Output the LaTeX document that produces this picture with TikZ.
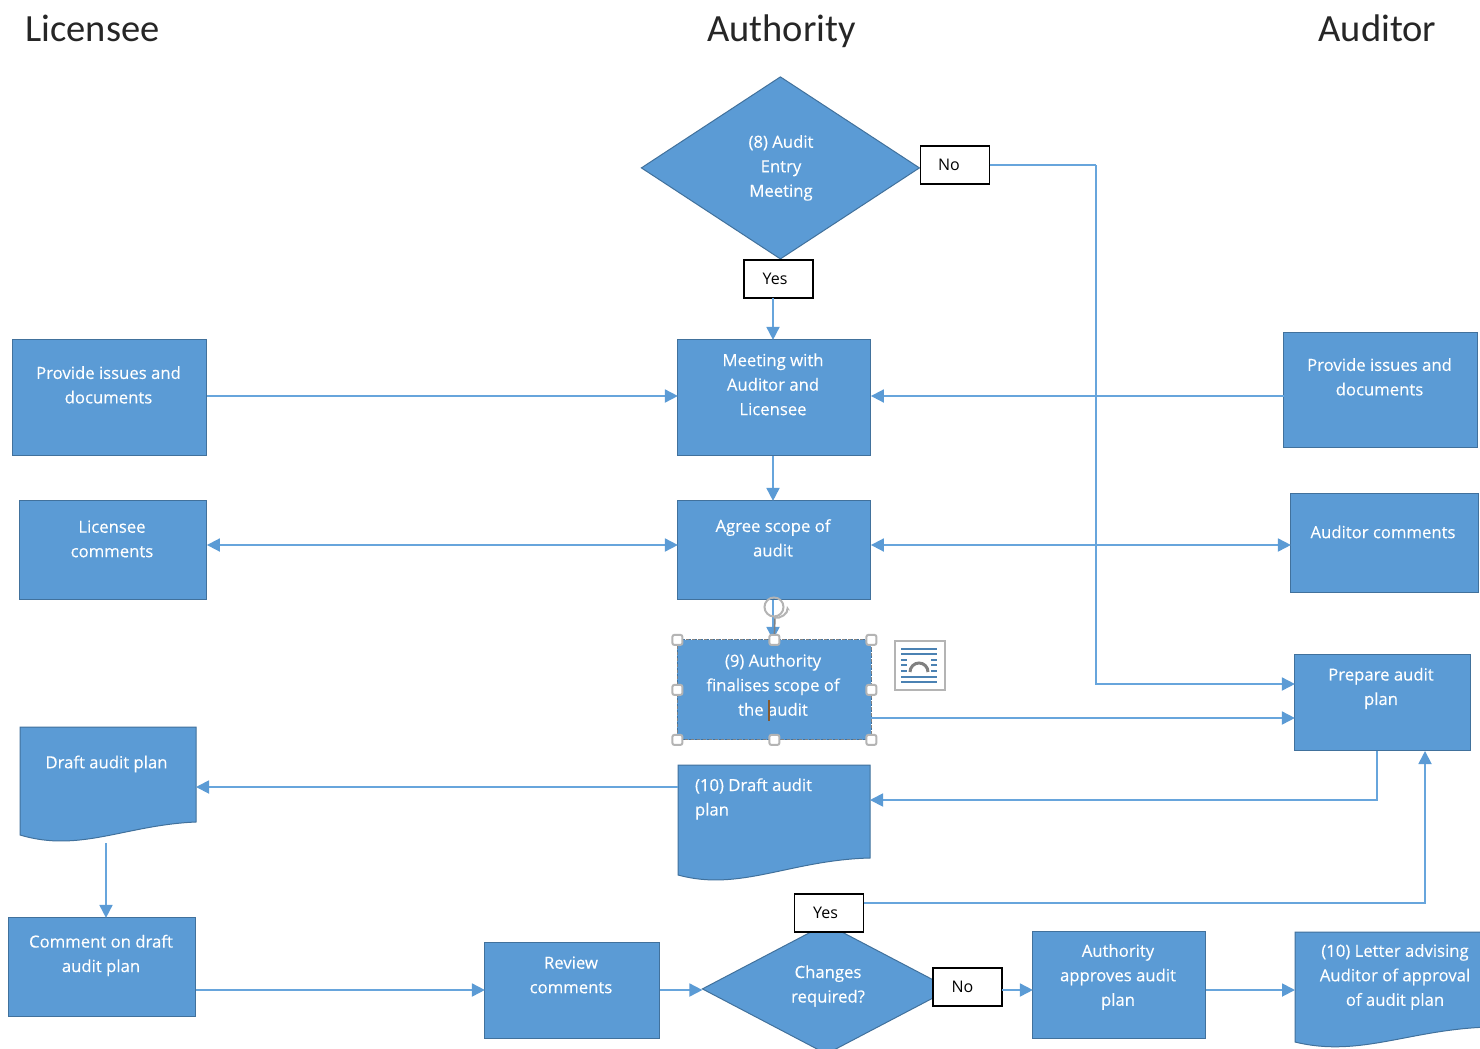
\documentclass[tikz,border=0pt]{standalone}
\usepackage{fontspec}
\setmainfont{Open Sans}
\newfontfamily\headfont{Carlito}
\newfontfamily\bodyfont[FakeBold=0.25]{Open Sans}
\usetikzlibrary{arrows.meta,shapes.geometric}
\definecolor{bluefill}{HTML}{5B9BD5}
\definecolor{blueedge}{HTML}{41719C}
\definecolor{bluelink}{HTML}{67A5DC}
\definecolor{handle}{HTML}{B4B4B4}
\definecolor{headgrey}{HTML}{262626}
\tikzset{
  box/.style={draw=blueedge,fill=bluefill,line width=1pt,outer sep=0pt,inner sep=0pt,xshift=-.1pt,yshift=.1pt},
  txt/.style={text=white,font=\bodyfont\fontsize{16.7}{24.5}\selectfont,align=center,inner sep=0pt,outer sep=0pt,yshift=.6pt},
  tag/.style={draw=black,fill=white,line width=1.5pt,outer sep=0pt,inner sep=0pt,minimum width=69pt,minimum height=38pt,font=\fontsize{16}{20}\selectfont},
  head/.style={font=\headfont\fontsize{38.5}{40}\selectfont,text=headgrey,inner sep=0pt,anchor=base},
  link/.style={draw=bluelink,line width=1.8pt},
  arr/.style={link,-{Triangle[length=13pt,width=13pt,color=bluefill]}},
  arrb/.style={link,{Triangle[length=13pt,width=13pt,color=bluefill]}-{Triangle[length=13pt,width=13pt,color=bluefill]}},
  doc/.style={draw=blueedge,fill=bluefill,line width=1pt},
  hole/.style={outer sep=0pt,inner sep=0pt},
  grip/.style={draw=handle,fill=white,line width=2pt,rounded corners=2pt,minimum size=10pt,inner sep=0pt},
  iconline/.style={draw=blueedge!60!bluefill,line width=1.3pt},
}
\begin{document}
\begin{tikzpicture}[x=1pt,y=-1pt]
\clip (0,0) rectangle (1480,1049);
\fill[white] (0,0) rectangle (1480,1049);

% headings
\node[head] (hl) at (92.5,41.5) {Licensee};
\node[head] (ha) at (781.5,41.5) {Authority};
\node[head] (hr) at (1377.5,41.5) {Auditor};

% diamonds
\node[box,diamond,minimum width=278pt,minimum height=182pt,shape aspect=1.53] (d1) at (780.5,168) {};
\node[box,diamond,minimum width=248pt,minimum height=130pt,shape aspect=1.9] (d2) at (826.5,989) {};

% boxes
\node[box,minimum width=194pt,minimum height=116pt] (pil) at (110,398) {};
\node[box,minimum width=193pt,minimum height=116pt] (meet) at (774.5,398) {};
\node[box,minimum width=194pt,minimum height=115pt] (pia) at (1381,390.5) {};
\node[box,minimum width=187pt,minimum height=99pt] (lc) at (113.5,550.5) {};
\node[box,minimum width=193pt,minimum height=99pt] (agree) at (774.5,550.5) {};
\node[box,minimum width=188pt,minimum height=99pt] (ac) at (1385,543.5) {};
\node[box,draw=blueedge,dashed,minimum width=194pt,minimum height=100pt] (fin) at (774.5,690) {};
\node[box,minimum width=176pt,minimum height=96pt] (prep) at (1383,703) {};
\node[box,minimum width=187pt,minimum height=99pt] (cm) at (102.5,967.5) {};
\node[box,minimum width=175pt,minimum height=96pt] (rev) at (572.5,991) {};
\node[box,minimum width=173pt,minimum height=107pt] (appr) at (1119.5,985.5) {};

% document shapes
\draw[doc] (20,727) -- (196,727) -- (196,822) .. controls (125,825) and (80,853) .. (20,835) -- cycle;
\node[hole,minimum width=176pt,minimum height=116pt] (dl) at (108,785) {};
\draw[doc] (678,765) -- (870,765) -- (870,858) .. controls (790,860) and (740,892) .. (678,875) -- cycle;
\node[hole,minimum width=192pt,minimum height=115pt] (dm) at (774,822.5) {};
\draw[doc] (1295,932) -- (1490,932) -- (1490,1027) .. controls (1410,1029) and (1360,1058) .. (1295,1042) -- cycle;
\node[hole,minimum width=195pt,minimum height=115pt] (let) at (1392.5,989.5) {};

% tags
\node[tag] (no1) at (955,165) {\hspace*{-12pt}No};
\node[tag] (yes1) at (778.5,279) {\hspace*{-7pt}Yes};
\node[tag] (yes2) at (829,913) {\hspace*{-7pt}Yes};
\node[tag] (no2) at (967.5,987) {\hspace*{-10pt}No};

% box texts
\node[txt] (t1) at (781,168.5) {(8) Audit\\Entry\\Meeting};
\node[txt] (t2) at (108.5,385.5) {Provide issues and\\documents};
\node[txt] (t3) at (773,385) {Meeting with\\Auditor and\\Licensee};
\node[txt] (t4) at (1379.5,377.5) {Provide issues and\\documents};
\node[txt] (t5) at (112,539.5) {Licensee\\comments};
\node[txt] (t6) at (773,538.5) {Agree scope of\\audit};
\node[txt] (t7) at (1383,532.5) {Auditor comments};
\node[txt] (t8) at (773,685.5) {(9) Authority\\finalises scope of\\the audit};
\node[txt] (t9) at (1381,689) {Prepare audit\\plan};
\node[txt] (t10) at (106.5,764.5) {Draft audit plan};
\node[txt,align=left,anchor=west] (t11) at (695,799.5) {(10) Draft audit\\plan};
\node[txt] (t12) at (101,956) {Comment on draft\\audit plan};
\node[txt] (t13) at (571,975.5) {Review\\comments};
\node[txt] (t14) at (828,986.5) {Changes\\required?};
\node[txt] (t15) at (1118,977.5) {Authority\\approves audit\\plan};
\node[txt] (t16) at (1395,977.5) {(10) Letter advising\\Auditor of approval\\of audit plan};

% connectors
\draw[link] (no1.east) -- (1096,165);
\draw[arr] (1096,165) |- (prep.west |- 0,684);
\draw[arr] (yes1.south -| 773,0) -- (meet.north -| 773,0);
\draw[arr] (pil.east |- 0,396) -- (meet.west |- 0,396);
\draw[arr] (pia.west |- 0,396) -- (meet.east |- 0,396);
\draw[arr] (meet.south -| 773,0) -- (agree.north -| 773,0);
\draw[arrb] (lc.east |- 0,545) -- (agree.west |- 0,545);
\draw[arrb] (agree.east |- 0,545) -- (ac.west |- 0,545);
\draw[arr] (agree.south -| 773,0) -- (fin.north -| 773,0);
\draw[arr] (fin.east |- 0,718) -- (prep.west |- 0,718);
\draw[arr] (dm.west |- 0,787) -- (dl.east |- 0,787);
\draw[arr] (1377,751) |- (dm.east |- 0,800);
\draw[arr] (yes2.east |- 0,903) -| (1425,751);
\draw[arr] (106,843) -- (cm.north -| 106,0);
\draw[arr] (cm.east |- 0,990) -- (rev.west |- 0,990);
\draw[arr] (rev.east |- 0,990) -- (d2.west |- 0,990);
\draw[arr] (no2.east |- 0,990) -- (appr.west |- 0,990);
\draw[arr] (appr.east |- 0,990) -- (let.west |- 0,990);

% selection decoration
\draw[draw=gray,dashed,line width=1pt] (fin.north west) rectangle (fin.south east);
\foreach \n/\a in {g1/north west,g2/north,g3/north east,g4/west,g5/east,g6/south west,g7/south,g8/south east}
  \node[grip] (\n) at (fin.\a) {};
\draw[draw=gray,line width=1.5pt] (g2.north) -- (775,617);
\node[circle,draw=handle,line width=2pt,minimum size=19pt,inner sep=0pt] (rot) at (774,607) {};
\draw[draw=handle,line width=2pt,-{Stealth[length=5pt]}] (rot.south) to[bend right=60] (787,606);
\draw[draw=brown!70!black,line width=1.2pt] (769,700) -- (769,721);

% layout icon
\node[draw=handle,fill=white,line width=2pt,minimum width=50pt,minimum height=49pt,inner sep=0pt] (icon) at (919.5,665) {};
\foreach \y in {649,654,677,682}
  \draw[iconline] (901,\y) -- (937,\y);
\foreach \y in {660,665,671}{
  \draw[iconline] (901,\y) -- (907,\y);
  \draw[iconline] (931,\y) -- (937,\y);}
\draw[draw=gray,line width=3pt] (910,672) arc[start angle=180,end angle=0,x radius=9pt,y radius=9pt];
\end{tikzpicture}
\end{document}
